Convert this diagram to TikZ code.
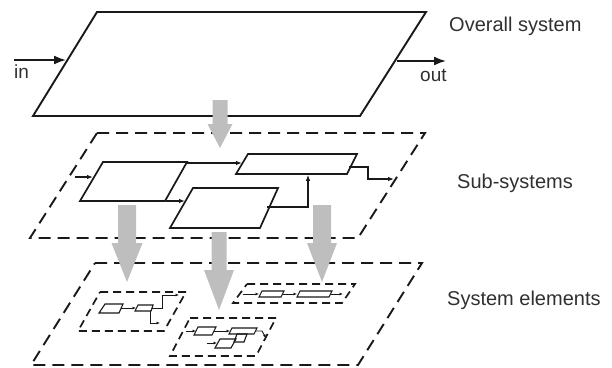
\documentclass[tikz,border=0pt]{standalone}
\usepackage{fontspec}
\setmainfont{Liberation Sans}
\usetikzlibrary{arrows.meta}
\definecolor{arrgray}{RGB}{190,190,190}
\definecolor{ink}{RGB}{25,25,25}
\tikzset{
  topbox/.style={draw=ink, line width=1.9pt, line join=miter},
  layerbox/.style={draw=ink, line width=1.9pt, dash pattern=on 12pt off 7pt},
  subbox/.style={draw=ink, line width=1.7pt},
  elembox/.style={draw=ink, line width=1.7pt, dash pattern=on 8pt off 5pt},
  tinybox/.style={draw=ink, line width=1.1pt},
  ioarrow/.style={draw=ink, line width=1.7pt, -{Latex[length=12pt,width=9pt]}},
  conn/.style={draw=ink, line width=1.1pt, -{Latex[length=6pt,width=4.5pt]}},
  tinyconn/.style={draw=ink, line width=0.9pt, -{Latex[length=3.5pt,width=3pt]}},
  lbl/.style={font=\fontsize{20}{24}\selectfont, inner sep=0pt, text=ink!90},
  iolbl/.style={font=\fontsize{19}{23}\selectfont, inner sep=0pt, text=ink!90},
  garrow/.style={fill=arrgray, draw=none}
}
\newcommand{\GArrow}[6]{\fill[garrow] (#1-#4,#2) -- (#1+#4,#2) -- (#1+#4,#3-#6) -- (#1+#5,#3-#6) -- (#1,#3) -- (#1-#5,#3-#6) -- (#1-#4,#3-#6) -- cycle;}
\begin{document}
\begin{tikzpicture}[x=1pt,y=-1pt]
\path[use as bounding box] (0,0) rectangle (612,367);

% ---------- Overall system ----------
\coordinate (T1) at (97,12);
\coordinate (T2) at (426,12);
\coordinate (T3) at (360,116);
\coordinate (T4) at (33,116);
\draw[topbox] (T1) -- (T2) -- (T3) -- (T4) -- cycle;
\coordinate (inS) at (14,60);
\coordinate (inE) at (66,60);
\draw[ioarrow] (inS) -- (inE);
\coordinate (outS) at (397,61);
\coordinate (outE) at (446,61);
\draw[ioarrow] (outS) -- (outE);
\node[iolbl, anchor=base west] (inlbl) at (14,78) {in};
\node[iolbl, anchor=base west] (outlbl) at (420,81) {out};
\node[lbl, anchor=base west] (l1) at (449,31) {Overall system};

% ---------- Sub-systems ----------
\coordinate (S1) at (97,133);
\coordinate (S2) at (425,133);
\coordinate (S3) at (358,238);
\coordinate (S4) at (30,238);
\draw[layerbox] (S1) -- (S2) -- (S3) -- (S4) -- cycle;

\coordinate (A1) at (103,162); \coordinate (A2) at (187,162);
\coordinate (A3) at (165,201); \coordinate (A4) at (80,201);
\draw[subbox] (A1) -- (A2) -- (A3) -- (A4) -- cycle;
\coordinate (B1) at (248,154); \coordinate (B2) at (357,154);
\coordinate (B3) at (347,174); \coordinate (B4) at (236,174);
\draw[subbox] (B1) -- (B2) -- (B3) -- (B4) -- cycle;
\coordinate (C1) at (193,188); \coordinate (C2) at (278,188);
\coordinate (C3) at (260,228); \coordinate (C4) at (170,228);
\draw[subbox] (C1) -- (C2) -- (C3) -- (C4) -- cycle;

\coordinate (inA0) at (75,177); \coordinate (inA) at (93,177);
\draw[conn] (inA0) -- (inA);
\coordinate (AB0) at (186,163); \coordinate (AB1) at (242,163);
\draw[conn] (AB0) -- (AB1);
\coordinate (AC0) at (166,201); \coordinate (AC1) at (185,201);
\draw[conn] (AC0) -- (AC1);
\coordinate (CB0) at (267,207); \coordinate (CB1) at (308,174.8);
\draw[conn] (CB0) -| (CB1);
\coordinate (Bo0) at (349,167); \coordinate (Bo1) at (368,167);
\coordinate (Bo2) at (368,179); \coordinate (Bo3) at (394,179);
\draw[conn] (Bo0) -- (Bo1) -- (Bo2) -- (Bo3);
\node[lbl, anchor=base west] (l2) at (457,188) {Sub-systems};

% ---------- System elements ----------
\coordinate (E1) at (95,263);
\coordinate (E2) at (422,263);
\coordinate (E3) at (358,365);
\coordinate (E4) at (31,365);
\draw[layerbox] (E1) -- (E2) -- (E3) -- (E4) -- cycle;

% element group L
\coordinate (L1) at (100,292); \coordinate (L2) at (186,292);
\coordinate (L3) at (164,331); \coordinate (L4) at (78,331);
\draw[elembox] (L1) -- (L2) -- (L3) -- (L4) -- cycle;
\draw[tinybox] (105,304) -- (123,304) -- (119,313) -- (99,313) -- cycle;
\draw[tinybox] (138,305) -- (153,305) -- (151,311) -- (135,311) -- cycle;
\coordinate (La0) at (121,308); \coordinate (La1) at (136,308);
\draw[tinyconn] (La0) -- (La1);
\coordinate (Lb0) at (152,308); \coordinate (Lb1) at (162,308);
\coordinate (Lb2) at (162,295); \coordinate (Lb3) at (179,295);
\draw[tinyconn] (Lb0) -- (Lb1) -- (Lb2) -- (Lb3);
\coordinate (Lc0) at (150,311); \coordinate (Lc1) at (150,323);
\coordinate (Lc2) at (160,323);
\draw[tinyconn] (Lc0) -- (Lc1) -- (Lc2);

% element group M
\coordinate (M1) at (190,318); \coordinate (M2) at (276,318);
\coordinate (M3) at (256,356); \coordinate (M4) at (170,356);
\draw[elembox] (M1) -- (M2) -- (M3) -- (M4) -- cycle;
\draw[tinybox] (198,327) -- (216,327) -- (212,335) -- (194,335) -- cycle;
\draw[tinybox] (232,328) -- (257,328) -- (254,334) -- (229,334) -- cycle;
\draw[tinybox] (237,334) -- (247,334) -- (244,342) -- (234,342) -- cycle;
\draw[tinybox] (220,339) -- (236,339) -- (231,348) -- (215,348) -- cycle;
\coordinate (Ma0) at (186,331); \coordinate (Ma1) at (196,331);
\draw[tinyconn] (Ma0) -- (Ma1);
\coordinate (Mb0) at (214,331); \coordinate (Mb1) at (230,331);
\draw[tinyconn] (Mb0) -- (Mb1);
\coordinate (Mc0) at (256,331); \coordinate (Mc1) at (262,331);
\coordinate (Mc2) at (266,338);
\draw[tinyconn] (Mc0) -- (Mc1) -- (Mc2);
\coordinate (Md0) at (207,343); \coordinate (Md1) at (217,343);
\draw[tinyconn] (Md0) -- (Md1);

% element group R
\coordinate (R1) at (247,284); \coordinate (R2) at (355,284);
\coordinate (R3) at (342,303); \coordinate (R4) at (233,303);
\draw[elembox] (R1) -- (R2) -- (R3) -- (R4) -- cycle;
\draw[tinybox] (262,291) -- (284,291) -- (281,297) -- (259,297) -- cycle;
\draw[tinybox] (300,291) -- (332,291) -- (329,297) -- (297,297) -- cycle;
\coordinate (Ra0) at (243,294); \coordinate (Ra1) at (259,294);
\draw[tinyconn] (Ra0) -- (Ra1);
\coordinate (Rb0) at (283,294); \coordinate (Rb1) at (297,294);
\draw[tinyconn] (Rb0) -- (Rb1);
\coordinate (Rc0) at (331,294); \coordinate (Rc1) at (343,294);
\draw[tinyconn] (Rc0) -- (Rc1);
\node[lbl, anchor=base west] (l3) at (447,305) {System elements};

% ---------- gray refinement arrows ----------
\GArrow{220}{100}{148}{7.5}{12.5}{24}
\GArrow{127}{205}{282}{9}{15.5}{39}
\GArrow{219}{232}{310}{7.5}{15}{40}
\GArrow{322}{205}{282}{9}{15}{39}
\end{tikzpicture}
\end{document}
